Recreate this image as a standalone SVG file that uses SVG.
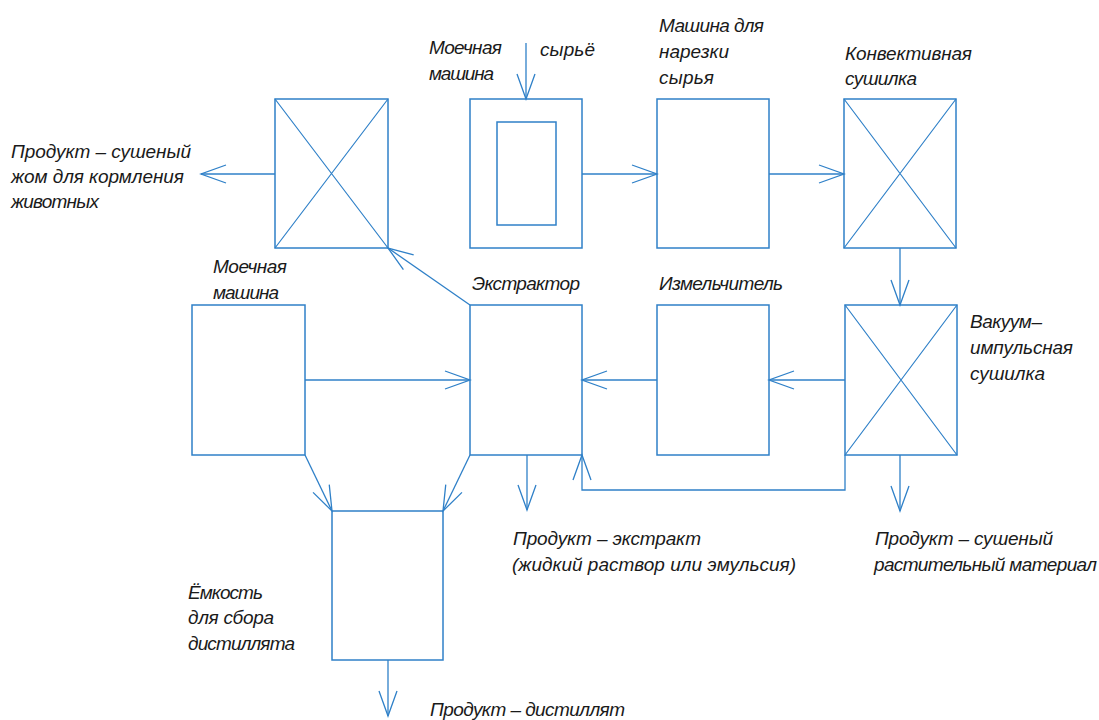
<svg xmlns="http://www.w3.org/2000/svg" width="1099" height="720" viewBox="0 0 1099 720">
<defs>
<style>
.b{fill:none;stroke:#2f80c8;stroke-width:1.5}
.x{fill:none;stroke:#2f80c8;stroke-width:1.2}
.c{fill:none;stroke:#2f80c8;stroke-width:1.3;marker-end:url(#ah)}
.t{font-family:"Liberation Sans",Arial,sans-serif;font-style:italic;font-size:19px;fill:#1a1a1a}
</style>
<marker id="ah" markerUnits="userSpaceOnUse" markerWidth="40" markerHeight="40" refX="0" refY="0" orient="auto" overflow="visible">
<path d="M-25,-9 L0,0 L-25,9" fill="none" stroke="#2f80c8" stroke-width="1.3"/>
</marker>
</defs>
<rect width="1099" height="720" fill="#fff"/>

<g id="connectors">
<path class="c" d="M275,174 L201,174"/>
<path class="c" d="M526,43 L526,99"/>
<path class="c" d="M582,174 L657,174"/>
<path class="c" d="M769,174 L844,174"/>
<path class="c" d="M900,248 L900,305"/>
<path class="c" d="M845,380 L769,380"/>
<path class="c" d="M657,380 L582,380"/>
<path class="c" d="M305,380 L470,380"/>
<path class="c" d="M470,305 L388,248"/>
<path class="c" d="M845,455 L845,490 L582,490 L582,455"/>
<path class="c" d="M527,455 L527,510"/>
<path class="c" d="M900,455 L900,511"/>
<path class="c" d="M305,455 L332,511"/>
<path class="c" d="M470,455 L443,511"/>
<path class="c" d="M388,660 L388,716"/>
</g>

<g id="dryer-pulp">
<rect class="b" x="275" y="99" width="113" height="149"/>
<path class="x" d="M275,99 L388,248 M388,99 L275,248"/>
</g>
<g id="label-pulp">
<text class="t" x="11" y="158" textLength="180" lengthAdjust="spacing">Продукт – сушеный</text>
<text class="t" x="11" y="183" textLength="173" lengthAdjust="spacing">жом для кормления</text>
<text class="t" x="11" y="208" textLength="88" lengthAdjust="spacing">животных</text>
</g>

<g id="washer-top">
<rect class="b" x="470" y="99" width="112" height="149"/>
<rect class="b" x="497" y="122" width="59" height="103"/>
<text class="t" x="429" y="54" textLength="73" lengthAdjust="spacing">Моечная</text>
<text class="t" x="429" y="80" textLength="65" lengthAdjust="spacing">машина</text>
</g>
<g id="label-raw">
<text class="t" x="540" y="56" textLength="55" lengthAdjust="spacing">сырьё</text>
</g>

<g id="cutter">
<rect class="b" x="657" y="99" width="112" height="149"/>
<text class="t" x="659" y="32" textLength="105" lengthAdjust="spacing">Машина для</text>
<text class="t" x="659" y="58" textLength="70" lengthAdjust="spacing">нарезки</text>
<text class="t" x="659" y="84" textLength="55" lengthAdjust="spacing">сырья</text>
</g>

<g id="convective-dryer">
<rect class="b" x="844" y="99" width="112" height="149"/>
<path class="x" d="M844,99 L956,248 M956,99 L844,248"/>
<text class="t" x="845" y="60" textLength="127" lengthAdjust="spacing">Конвективная</text>
<text class="t" x="845" y="85" textLength="72" lengthAdjust="spacing">сушилка</text>
</g>

<g id="washer-2">
<rect class="b" x="192" y="305" width="113" height="150"/>
<text class="t" x="213" y="273" textLength="74" lengthAdjust="spacing">Моечная</text>
<text class="t" x="213" y="299" textLength="66" lengthAdjust="spacing">машина</text>
</g>

<g id="extractor">
<rect class="b" x="470" y="305" width="112" height="150"/>
<text class="t" x="472" y="290" textLength="108" lengthAdjust="spacing">Экстрактор</text>
</g>

<g id="grinder">
<rect class="b" x="657" y="305" width="112" height="150"/>
<text class="t" x="659" y="290" textLength="124" lengthAdjust="spacing">Измельчитель</text>
</g>

<g id="vacuum-dryer">
<rect class="b" x="845" y="305" width="112" height="150"/>
<path class="x" d="M845,305 L957,455 M957,305 L845,455"/>
<text class="t" x="970" y="328" textLength="72" lengthAdjust="spacing">Вакуум–</text>
<text class="t" x="970" y="354" textLength="103" lengthAdjust="spacing">импульсная</text>
<text class="t" x="970" y="380" textLength="75" lengthAdjust="spacing">сушилка</text>
</g>

<g id="label-extract">
<text class="t" x="513" y="545" textLength="188" lengthAdjust="spacing">Продукт – экстракт</text>
<text class="t" x="512" y="571" textLength="284" lengthAdjust="spacing">(жидкий раствор или эмульсия)</text>
</g>

<g id="label-dried">
<text class="t" x="875" y="545" textLength="178" lengthAdjust="spacing">Продукт – сушеный</text>
<text class="t" x="874" y="571" textLength="223" lengthAdjust="spacing">растительный материал</text>
</g>

<g id="tank">
<rect class="b" x="332" y="511" width="111" height="149"/>
<text class="t" x="188" y="599" textLength="75" lengthAdjust="spacing">Ёмкость</text>
<text class="t" x="188" y="624" textLength="86" lengthAdjust="spacing">для сбора</text>
<text class="t" x="188" y="650" textLength="107" lengthAdjust="spacing">дистиллята</text>
</g>

<g id="label-distillate">
<text class="t" x="430" y="716" textLength="195" lengthAdjust="spacing">Продукт – дистиллят</text>
</g>
</svg>
